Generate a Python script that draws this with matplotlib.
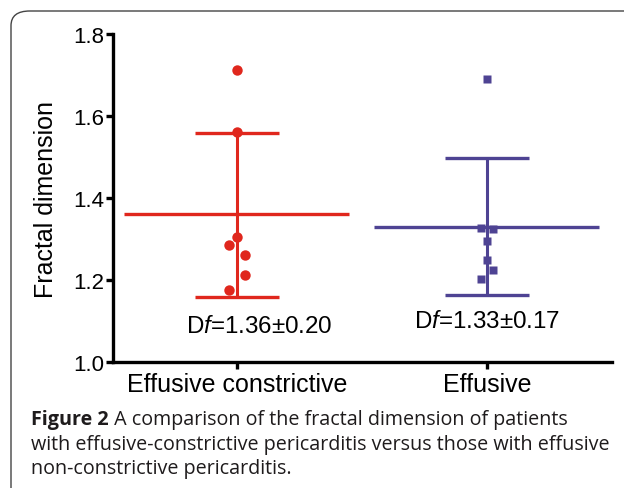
import matplotlib
matplotlib.use("Agg")
import matplotlib.pyplot as plt
from matplotlib.patches import FancyBboxPatch
import numpy as np

plt.rcParams['font.family'] = ['Liberation Sans', 'DejaVu Sans']
plt.rcParams['mathtext.fontset'] = 'custom'
plt.rcParams['mathtext.rm'] = 'Liberation Sans'
plt.rcParams['mathtext.it'] = 'Liberation Sans:italic'

# ---- data ----
categories = ["Effusive constrictive", "Effusive"]
constrictive_vals = [1.712, 1.562, 1.306, 1.286, 1.260, 1.211, 1.175]
constrictive_jitter = [0, 0, 0, -0.032, 0.032, 0.032, -0.032]
effusive_vals = [1.691, 1.326, 1.324, 1.296, 1.248, 1.224, 1.203]
effusive_jitter = [0, -0.024, 0.024, 0, 0, 0.024, -0.024]
means = [1.360, 1.330]
upper = [1.558, 1.498]
lower = [1.159, 1.163]
annotations = ["D$\\mathit{f}$=1.36±0.20", "D$\\mathit{f}$=1.33±0.17"]
yticks = [1.0, 1.2, 1.4, 1.6, 1.8]

red = '#e0271d'
purple = '#4e4393'
colors = [red, purple]

W, H = 624, 489
fig = plt.figure(figsize=(W / 100, H / 100), dpi=100)

# frame
frame = FancyBboxPatch((11 / W, -0.2), 1.2, 1 - 12 / H + 0.2,
                       boxstyle="round,pad=0,rounding_size=0.03",
                       transform=fig.transFigure, fill=False,
                       edgecolor='#444444', lw=1.0, clip_on=False)
fig.patches.append(frame)

ax = fig.add_axes([113 / W, 1 - 363 / H, (612 - 113) / W, (363 - 35) / H])
ax.set_xlim(-0.495, 1.5)
ax.set_ylim(1.0, 1.8)

for i, (vals, jit, marker, ms) in enumerate([
        (constrictive_vals, constrictive_jitter, 'o', 7.5),
        (effusive_vals, effusive_jitter, 's', 6.2)]):
    c = colors[i]
    ax.hlines(means[i], i - 0.45, i + 0.45, color=c, lw=2.4, zorder=2)
    ax.hlines([upper[i], lower[i]], i - 0.168, i + 0.168, color=c, lw=2.4, zorder=2)
    ax.vlines(i, lower[i], upper[i], color=c, lw=2.2, zorder=2)
    ax.plot(np.array(jit) + i, vals, linestyle='none', marker=marker,
            ms=ms, color=c, mec='none', zorder=3)

ax.text(0.09, 1.089, annotations[0], ha='center', va='center', fontsize=17.4)
ax.text(1.0, 1.099, annotations[1], ha='center', va='center', fontsize=17.4)

for s in ['top', 'right']:
    ax.spines[s].set_visible(False)
for s in ['left', 'bottom']:
    ax.spines[s].set_linewidth(2.4)
ax.set_yticks(yticks)
ax.set_yticklabels([f"{v:.1f}" for v in yticks])
ax.set_xticks([0, 1])
ax.set_xticklabels(categories)
ax.tick_params(axis='y', direction='out', length=5, width=2.4, labelsize=16, pad=1)
ax.tick_params(axis='x', direction='out', length=5, width=2.4, labelsize=18, pad=2)
ax.set_ylabel("Fractal dimension", fontsize=18, labelpad=11)

# caption
cap_font = 'Open Sans'
cap_size = 14.2
cap_color = '#1e1b1c'
fig.canvas.draw()
renderer = fig.canvas.get_renderer()
x0 = 31 / W
t1 = fig.text(x0, 1 - 420 / H, "Figure 2", fontfamily=cap_font, fontweight='bold',
              fontsize=cap_size, va='center', ha='left', color=cap_color)
bb = t1.get_window_extent(renderer=renderer)
fig.text(bb.x1 / W, 1 - 420 / H, " A comparison of the fractal dimension of patients",
         fontfamily=cap_font, fontweight='medium', fontsize=cap_size, va='center', ha='left', color=cap_color)
fig.text(x0, 1 - 445 / H, "with effusive-constrictive pericarditis versus those with effusive",
         fontfamily=cap_font, fontweight='medium', fontsize=cap_size, va='center', ha='left', color=cap_color)
fig.text(x0, 1 - 469 / H, "non-constrictive pericarditis.",
         fontfamily=cap_font, fontweight='medium', fontsize=cap_size, va='center', ha='left', color=cap_color)

fig.savefig("out.png", dpi=100)
